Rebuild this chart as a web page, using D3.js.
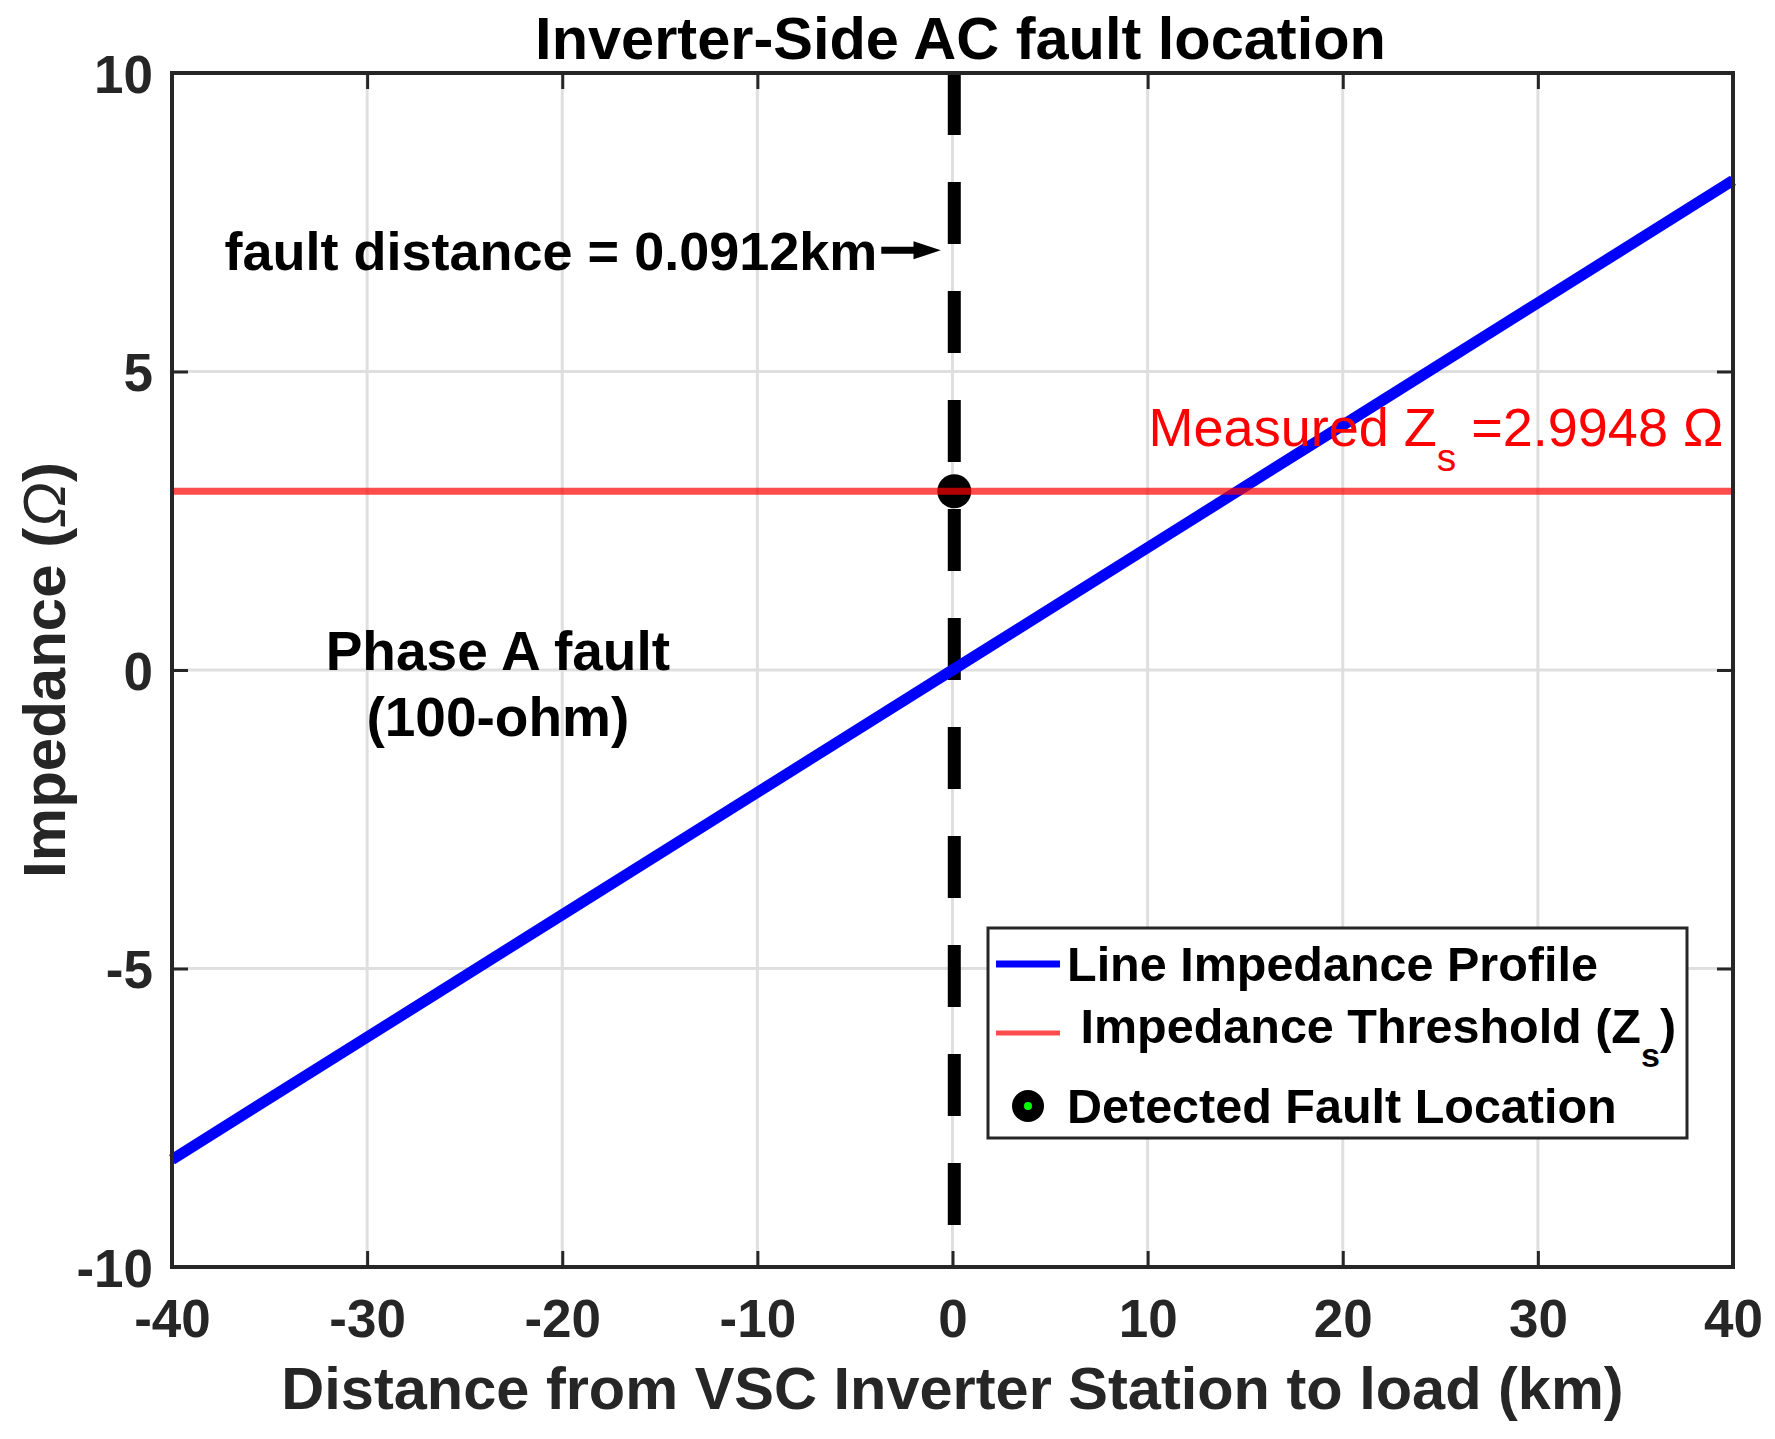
<!DOCTYPE html>
<html>
<head>
<meta charset="utf-8">
<script src="https://cdn.jsdelivr.net/npm/d3@7"></script>
<style>
  body { margin: 0; background: #fff; }
  text { font-family: "Liberation Sans", Arial, Helvetica, sans-serif; }
</style>
</head>
<body>
<script>
// data
var distance = [-40, -30, -20, -10, 0, 10, 20, 30, 40];
var impedance = [-8.2, -6.15, -4.1, -2.05, 0, 2.05, 4.1, 6.15, 8.2];
var threshold = 2.9948;
var faultDist = 0.0912;
var xTicks = [-40, -30, -20, -10, 0, 10, 20, 30, 40];
var yTicks = [-10, -5, 0, 5, 10];
var legendLabels = ["Line Impedance Profile", " Impedance Threshold (Z", "Detected Fault Location"];

var W = 1775, H = 1439;
var margin = {top: 73, right: 42, bottom: 172, left: 172};
var width = W - margin.left - margin.right;   // 1561
var height = H - margin.top - margin.bottom;  // 1194

var svg = d3.select("body").append("svg")
  .attr("width", W)
  .attr("height", H);

var x = d3.scaleLinear().domain([-40, 40]).range([0, width]);
var y = d3.scaleLinear().domain([-10, 10]).range([height, 0]);

var g = svg.append("g")
  .attr("transform", "translate(" + margin.left + "," + margin.top + ")");

// grid
g.append("g").selectAll("line").data(xTicks).enter().append("line")
  .attr("x1", d => x(d)).attr("x2", d => x(d))
  .attr("y1", 0).attr("y2", height)
  .attr("stroke", "#dfdfdf").attr("stroke-width", 3);
g.append("g").selectAll("line").data(yTicks).enter().append("line")
  .attr("x1", 0).attr("x2", width)
  .attr("y1", d => y(d)).attr("y2", d => y(d))
  .attr("stroke", "#dfdfdf").attr("stroke-width", 3);

// axes, ticks inward on all four sides
var tk = 16;
var fmt = function(d) { return String(d); };  // plain hyphen minus like the original
var xb = g.append("g").attr("transform", "translate(0," + height + ")")
  .call(d3.axisBottom(x).tickValues(xTicks).tickSizeInner(-tk).tickSizeOuter(0).tickPadding(32).tickFormat(fmt));
var xt = g.append("g")
  .call(d3.axisTop(x).tickValues(xTicks).tickSizeInner(-tk).tickSizeOuter(0).tickFormat(""));
var yl = g.append("g")
  .call(d3.axisLeft(y).tickValues(yTicks).tickSizeInner(-tk).tickSizeOuter(0).tickPadding(19).tickFormat(fmt));
var yr = g.append("g").attr("transform", "translate(" + width + ",0)")
  .call(d3.axisRight(y).tickValues(yTicks).tickSizeInner(-tk).tickSizeOuter(0).tickFormat(""));

[xb, xt, yl, yr].forEach(function(a) {
  a.select(".domain").remove();
  a.selectAll(".tick line").attr("stroke", "#262626").attr("stroke-width", 3);
  a.selectAll(".tick text")
    .attr("fill", "#262626")
    .style("font-size", "53px")
    .style("font-weight", "bold")
    .style("font-family", "'Liberation Sans', Arial, sans-serif");
});
xb.selectAll(".tick text").attr("dy", "0.71em");
yl.selectAll(".tick text").attr("dy", "0.36em");

// dashed fault line
g.append("line")
  .attr("x1", x(faultDist)).attr("x2", x(faultDist))
  .attr("y1", y(10)).attr("y2", y(-9.5))
  .attr("stroke", "#000").attr("stroke-width", 13)
  .attr("stroke-dasharray", "62,47");

// line impedance profile
var line = d3.line()
  .x(function(d, i) { return x(distance[i]); })
  .y(function(d) { return y(d); });

g.append("path")
  .datum(impedance)
  .attr("fill", "none")
  .attr("stroke", "#0000ff")
  .attr("stroke-width", 11)
  .attr("d", line);

// detected point
g.append("circle")
  .attr("cx", x(faultDist)).attr("cy", y(threshold))
  .attr("r", 17).attr("fill", "#000");

// threshold
g.append("line")
  .attr("x1", 0).attr("x2", width)
  .attr("y1", y(threshold)).attr("y2", y(threshold))
  .attr("stroke", "#ff0000").attr("stroke-opacity", 0.7)
  .attr("stroke-width", 7);

// box
g.append("rect")
  .attr("width", width).attr("height", height)
  .attr("fill", "none").attr("stroke", "#262626").attr("stroke-width", 4);

// annotations
g.append("text")
  .attr("x", x(-3.85)).attr("y", y(6.7))
  .attr("text-anchor", "end")
  .style("font-size", "54px").style("font-weight", "bold")
  .text("fault distance = 0.0912km");

var ay = y(7.03);
g.append("line")
  .attr("x1", x(-3.65)).attr("x2", x(-1.6))
  .attr("y1", ay).attr("y2", ay)
  .attr("stroke", "#000").attr("stroke-width", 7);
g.append("path")
  .attr("d", "M" + x(-2.0) + "," + (ay - 9) + "L" + x(-0.6) + "," + ay + "L" + x(-2.0) + "," + (ay + 9) + "Z")
  .attr("fill", "#000");

g.append("text")
  .attr("x", x(-23.3)).attr("y", y(0))
  .attr("text-anchor", "middle")
  .style("font-size", "55px").style("font-weight", "bold")
  .text("Phase A fault");
g.append("text")
  .attr("x", x(-23.3)).attr("y", y(-1.1))
  .attr("text-anchor", "middle")
  .style("font-size", "55px").style("font-weight", "bold")
  .text("(100-ohm)");

var mz = g.append("text")
  .attr("x", x(10.05)).attr("y", y(3.75))
  .attr("fill", "#ff0000")
  .style("font-size", "54px");
mz.append("tspan").text("Measured Z");
mz.append("tspan").attr("dy", 25).style("font-size", "39px").text("s");
mz.append("tspan").attr("dy", -25).text(" =2.9948 \u03A9");

// title and axis labels
svg.append("text")
  .attr("x", margin.left + width / 2 + 8).attr("y", 59)
  .attr("text-anchor", "middle")
  .style("font-size", "59.5px").style("font-weight", "bold")
  .text("Inverter-Side AC fault location");

svg.append("text")
  .attr("x", margin.left + width / 2).attr("y", 1409)
  .attr("text-anchor", "middle")
  .attr("fill", "#262626")
  .style("font-size", "59.5px").style("font-weight", "bold")
  .text("Distance from VSC Inverter Station to load (km)");

var yLab = svg.append("text")
  .attr("transform", "translate(65," + (margin.top + height / 2) + ") rotate(-90)")
  .attr("text-anchor", "middle")
  .attr("fill", "#262626")
  .style("font-size", "60px").style("font-weight", "bold");
yLab.append("tspan").text("Impedance (");
yLab.append("tspan").style("font-style", "italic").style("font-weight", "normal").text("\u03A9");
yLab.append("tspan").text(")");

// legend
var lg = svg.append("g").attr("transform", "translate(988,928)");
lg.append("rect")
  .attr("width", 699).attr("height", 210)
  .attr("fill", "#fff").attr("stroke", "#262626").attr("stroke-width", 3);
var rows = [36, 105, 178];
var textOff = [17, 10, 17];
lg.append("line").attr("x1", 8).attr("x2", 72).attr("y1", rows[0]).attr("y2", rows[0])
  .attr("stroke", "#0000ff").attr("stroke-width", 7);
lg.append("line").attr("x1", 8).attr("x2", 72).attr("y1", rows[1]).attr("y2", rows[1])
  .attr("stroke", "#ff0000").attr("stroke-opacity", 0.7).attr("stroke-width", 5);
lg.append("circle").attr("cx", 40).attr("cy", rows[2]).attr("r", 16).attr("fill", "#000");
lg.append("circle").attr("cx", 40).attr("cy", rows[2]).attr("r", 4).attr("fill", "#00ff00");

legendLabels.forEach(function(t, i) {
  var tx = lg.append("text")
    .attr("x", 79).attr("y", rows[i] + textOff[i])
    .attr("xml:space", "preserve")
    .style("white-space", "pre")
    .style("font-size", "48.5px").style("font-weight", "bold")
    .text(t);
  if (i === 1) {
    tx.append("tspan").attr("dy", 24).style("font-size", "34px").text("s");
    tx.append("tspan").attr("dy", -24).text(")");
  }
});
</script>
</body>
</html>
